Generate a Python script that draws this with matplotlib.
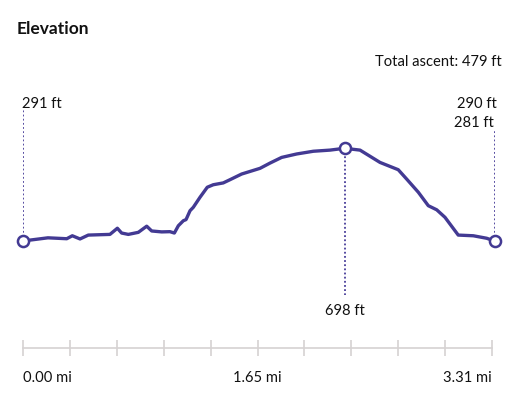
import numpy as np
import matplotlib
matplotlib.use("Agg")
import matplotlib.pyplot as plt

# elevation profile (miles, feet)
distance = [0.0, 0.047, 0.173, 0.305, 0.344, 0.398, 0.456, 0.608, 0.660, 0.690,
            0.737, 0.807, 0.866, 0.901, 0.971, 1.029, 1.060, 1.088, 1.123, 1.142,
            1.170, 1.193, 1.240, 1.291, 1.333, 1.403, 1.450, 1.532, 1.661, 1.731,
            1.813, 1.918, 2.035, 2.152, 2.254, 2.363, 2.503, 2.631, 2.690, 2.772,
            2.842, 2.901, 2.959, 3.052, 3.158, 3.252, 3.31]
elevation = [291, 295, 305, 301, 314, 300, 317, 320, 347, 326,
             320, 329, 356, 335, 331, 332, 326, 358, 380, 385,
             424, 439, 483, 527, 538, 546, 560, 585, 610, 633,
             658, 673, 685, 690, 698, 690, 636, 604, 563, 505,
             446, 428, 395, 317, 314, 303, 290]

total_dist = 3.31
tick_labels = ["0.00 mi", "1.65 mi", "3.31 mi"]
title = "Elevation"
ascent_text = "Total ascent: 479 ft"
start_label = "291 ft"
end_labels = ["290 ft", "281 ft"]
peak_label = "698 ft"

line_color = "#433a93"
dot_color = "#483d99"
grey = "#d6d2d2"

plt.rcParams['font.family'] = ['Lato', 'DejaVu Sans']

W, H = 527, 402
fig = plt.figure(figsize=(W / 100, H / 100), dpi=100)

def px(x0, y0, x1, y1):
    # pixel box -> figure fraction rect
    return [x0 / W, 1 - y1 / H, (x1 - x0) / W, (y1 - y0) / H]

# main profile axes
ax = fig.add_axes(px(23.3, 90, 495, 330))
ax.set_xlim(0, total_dist)
ax.set_ylim(-95.3, 958.3)
ax.axis("off")

ax.plot(distance, elevation, color=line_color, lw=2.4, solid_capstyle="round",
        solid_joinstyle="round", zorder=3)

i_peak = int(np.argmax(elevation))
marks_x = [distance[0], distance[i_peak], distance[-1]]
marks_y = [elevation[0], elevation[i_peak], elevation[-1]]
ax.plot(marks_x, marks_y, "o", ms=8, mfc="white", mec=line_color, mew=1.8,
        zorder=4, clip_on=False)

# dotted guides
dots = (0, (1.0, 1.3))
ax.vlines(distance[0], elevation[0], 864, colors=dot_color, lw=1.3,
          linestyles=dots, zorder=2)
ax.vlines(distance[-1], elevation[-1], 781, colors=dot_color, lw=1.3,
          linestyles=dots, zorder=2)
ax.vlines(distance[i_peak], elevation[i_peak], 52, colors=dot_color, lw=1.3,
          linestyles=dots, zorder=2)

fs = 10.6
ax.annotate(start_label, (distance[0], 864), xytext=(-1, 0), textcoords="offset points",
            ha="left", va="bottom", fontsize=fs, color="#111111")
ax.annotate(end_labels[0], (distance[-1], 864), xytext=(1, 0), textcoords="offset points",
            ha="right", va="bottom", fontsize=fs, color="#111111")
ax.annotate(end_labels[1], (distance[-1], 781), xytext=(-1, 0), textcoords="offset points",
            ha="right", va="bottom", fontsize=fs, color="#111111")
ax.annotate(peak_label, (distance[i_peak], 45), xytext=(0, -4), textcoords="offset points",
            ha="center", va="top", fontsize=fs, color="#111111")

fig.text(17 / W, 1 - 29 / H, title, fontsize=12.5, fontweight="bold",
         ha="left", va="center", color="#111111")
fig.text(502 / W, 1 - 62 / H, ascent_text, fontsize=fs, ha="right", va="center",
         color="#111111")

# distance ruler
rax = fig.add_axes(px(23, 349, 492, 349.01))
rax.set_xlim(0, total_dist)
rax.set_yticks([])
for s in ["top", "left", "right"]:
    rax.spines[s].set_visible(False)
rax.spines["bottom"].set_color(grey)
rax.spines["bottom"].set_linewidth(1.2)
ticks = np.linspace(0, total_dist, 11)
rax.set_xticks(ticks)
labels = [""] * 11
labels[0], labels[5], labels[10] = tick_labels
rax.set_xticklabels(labels, fontsize=fs, color="#111111")
rax.tick_params(axis="x", direction="inout", length=12, width=1.2, color=grey, pad=10)
tl = rax.get_xticklabels()
tl[0].set_ha("left")
tl[10].set_ha("right")

fig.savefig("out.png", dpi=100)
